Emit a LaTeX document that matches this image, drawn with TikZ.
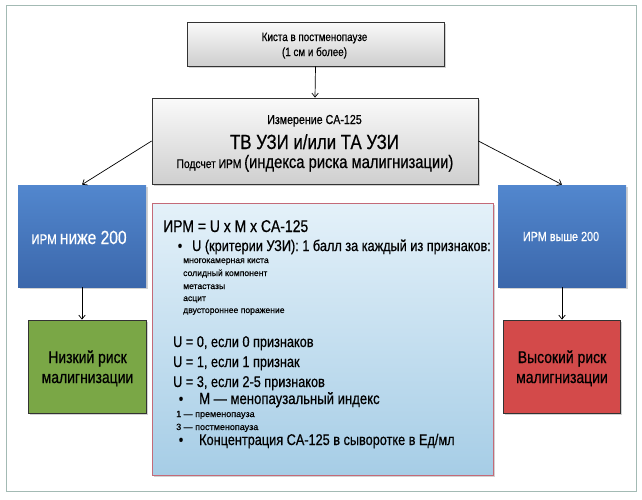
\documentclass[tikz,border=0pt]{standalone}
\usepackage{fontspec}
\setmainfont{Liberation Sans}[FakeStretch=0.82,FakeBold=0.6]
\newfontfamily\regfont{Liberation Sans}[FakeBold=0.4]
\usetikzlibrary{arrows.meta,shadows}
\newcommand\fs[1]{\fontsize{#1}{#1}\selectfont}
\definecolor{framec}{HTML}{A3BAB4}
\definecolor{bluetop}{HTML}{5287CE}
\definecolor{bluebot}{HTML}{3B67AB}
\definecolor{greenc}{HTML}{7AA746}
\definecolor{redc}{HTML}{D34A4A}
\definecolor{cboxtop}{HTML}{E4F1F9}
\definecolor{cboxbot}{HTML}{A6CDE6}
\definecolor{cboxborder}{HTML}{C46A78}
\begin{document}
\begin{tikzpicture}[x=1pt,y=-1pt,
  box/.style={rectangle, inner sep=0pt, line width=0.8pt,
    drop shadow={shadow xshift=1.5pt, shadow yshift=-1.5pt, opacity=0.35}},
  graybox/.style={box, draw=black!80, top color=gray!4, bottom color=gray!38},
  bluebox/.style={box, draw=none, top color=bluetop, bottom color=bluebot},
  greenbox/.style={box, draw=black!80, fill=greenc},
  redbox/.style={box, draw=black!80, fill=redc},
  infobox/.style={box, draw=cboxborder, line width=1pt, top color=cboxtop, bottom color=cboxbot},
  txt/.style={inner sep=0pt, anchor=base},
  ltxt/.style={inner sep=0pt, anchor=base west},
  arr/.style={-{Straight Barb[length=4pt,width=6.5pt]}, line width=0.7pt, black}
]
\fill[white] (0,0) rectangle (642,499);
\useasboundingbox (0,0) rectangle (642,499);
\draw[framec, line width=1pt] (6,5) rectangle (636,491);

% boxes
\node[graybox, minimum width=257pt, minimum height=44pt] (top) at (315.5,44) {};
\node[graybox, minimum width=326pt, minimum height=86pt] (main) at (315,141) {};
\node[bluebox, minimum width=128pt, minimum height=102pt] (lblue) at (82,236) {};
\node[bluebox, minimum width=128pt, minimum height=102pt] (rblue) at (562,236) {};
\node[greenbox, minimum width=118pt, minimum height=93pt] (green) at (87,366.5) {};
\node[redbox, minimum width=117pt, minimum height=93pt] (red) at (561.5,366.5) {};
\node[infobox, minimum width=341pt, minimum height=272pt] (info) at (322.5,339) {};

% connectors
\draw[arr] (top.south) -- (main.north);
\draw[arr] (main.west) -- (lblue.north);
\draw[arr] (main.east) -- (rblue.north);
\draw[arr] (lblue.south) -- (lblue.south |- green.north);
\draw[arr] (rblue.south) -- (rblue.south |- red.north);

% top box text
\node[txt] (top1) at (314.5,41) {\fs{12}Киста в постменопаузе};
\node[txt] (top2) at (314.5,56) {\fs{12}(1 см и более)};

% main box text
\node[txt] (m1) at (314.5,124) {\fs{13}Измерение CA-125};
\node[txt] (m2) at (314.5,149) {\fs{20.5}ТВ УЗИ и/или ТА УЗИ};
\node[txt] (m3) at (315,168) {\fs{12.5}Подсчет ИРМ \fs{18}(индекса риска малигнизации)};

% blue texts
\node[txt, white] (lb) at (79,244) {\fs{14}ИРМ \fs{19}ниже 200};
\node[txt, white] (rb) at (561,241) {\fs{13.2}ИРМ выше 200};

% green / red texts
\node[txt] (g1) at (87.5,363) {\fs{17}Низкий риск};
\node[txt] (g2) at (87.5,383) {\fs{17}малигнизации};
\node[txt] (r1) at (562,363) {\fs{17}Высокий риск};
\node[txt] (r2) at (562,383) {\fs{17}малигнизации};

% info box text
\node[ltxt] (i1) at (163,232) {\fs{17}ИРМ = U x M x CA-125};
\node[txt] (b1) at (180,251) {\fs{15.5}•};
\node[ltxt] (i2) at (192,251) {\fs{15.5}U (критерии УЗИ): 1 балл за каждый из признаков:};
\node[ltxt] (s1) at (183,263) {\regfont\fs{8.6}многокамерная киста};
\node[ltxt] (s2) at (183,276) {\regfont\fs{8.6}солидный компонент};
\node[ltxt] (s3) at (183,289) {\regfont\fs{8.6}метастазы};
\node[ltxt] (s4) at (183,301) {\regfont\fs{8.6}асцит};
\node[ltxt] (s5) at (183,313) {\regfont\fs{8.6}двустороннее поражение};
\node[ltxt] (u0) at (173,347) {\fs{15.5}U = 0, если 0 признаков};
\node[ltxt] (u1) at (173,367) {\fs{15.5}U = 1, если 1 признак};
\node[ltxt] (u3) at (173,387) {\fs{15.5}U = 3, если 2-5 признаков};
\node[txt] (b2) at (181,404) {\fs{15.5}•};
\node[ltxt] (i3) at (199,404) {\fs{16}M — менопаузальный индекс};
\node[ltxt] (p1) at (176,417) {\regfont\fs{9}1 — пременопауза};
\node[ltxt] (p3) at (176,430) {\regfont\fs{9}3 — постменопауза};
\node[txt] (b3) at (181,445) {\fs{15.5}•};
\node[ltxt] (i4) at (199,445) {\fs{15.5}Концентрация CA-125 в сыворотке в Ед/мл};
\end{tikzpicture}
\end{document}
